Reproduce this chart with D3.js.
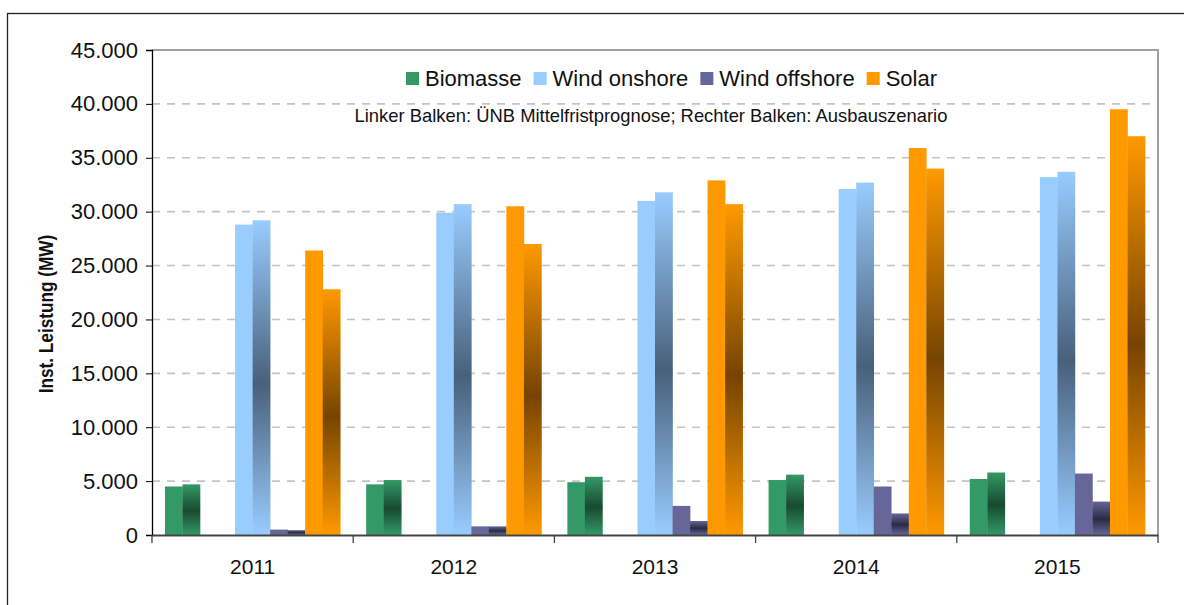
<!DOCTYPE html>
<html>
<head>
<meta charset="utf-8">
<script src="https://cdn.jsdelivr.net/npm/d3@7"></script>
<style>
  body { margin: 0; background: #fff; }
  svg { font-family: "Liberation Sans", Arial, sans-serif; }
</style>
</head>
<body>
<svg width="1184" height="605"></svg>
<script>
// Installierte Leistung EE, links UENB Mittelfristprognose, rechts Ausbauszenario

const years = ["2011", "2012", "2013", "2014", "2015"];
const series = ["Biomasse", "Wind onshore", "Wind offshore", "Solar"];

const biomasse_uenb   = [4500, 4700, 4900, 5100, 5200];
const biomasse_ausbau = [4700, 5100, 5400, 5600, 5800];
const onshore_uenb    = [28800, 29900, 31000, 32100, 33200];
const onshore_ausbau  = [29200, 30700, 31800, 32700, 33700];
const offshore_uenb   = [500, 800, 2700, 4500, 5700];
const offshore_ausbau = [450, 800, 1300, 2000, 3100];
const solar_uenb      = [26400, 30500, 32900, 35900, 39500];
const solar_ausbau    = [22800, 27000, 30700, 34000, 37000];

const yTicks = [0, 5000, 10000, 15000, 20000, 25000, 30000, 35000, 40000, 45000];

const colors = ["#339966", "#99ccff", "#666699", "#ff9900"];
const darks  = ["#184a30", "#48607a", "#2a2a44", "#774400"];

// one empty slot between Biomasse and Wind onshore, like in the excel chart
const slots = ["Biomasse", "-", "Wind onshore", "Wind offshore", "Solar"];

const svg = d3.select("svg");

const pLeft = 152, pRight = 1158, pTop = 50, pBottom = 535;

const de = d3.formatLocale({decimal: ",", thousands: ".", grouping: [3], currency: ["", " €"]});
const fmt = de.format(",");

const y = d3.scaleLinear().domain([0, 45000]).range([pBottom, pTop]);
const x0 = d3.scaleBand().domain(years).range([pLeft, pRight]);
const x1 = d3.scaleBand().domain(slots).range([0, x0.bandwidth()]).paddingOuter(0.37);
const x2 = d3.scaleBand().domain(["links", "rechts"]).range([0, x1.bandwidth()]);

// outer frame
svg.append("rect")
    .attr("x", 7.5).attr("y", 13.5)
    .attr("width", 1190).attr("height", 600)
    .attr("fill", "none").attr("stroke", "#222").attr("stroke-width", 1.3);

// gradients for the right bars
const defs = svg.append("defs");
series.forEach((s, i) => {
  const g = defs.append("linearGradient")
      .attr("id", "grad" + i)
      .attr("x1", 0).attr("y1", 0).attr("x2", 0).attr("y2", 1);
  g.append("stop").attr("offset", "0%").attr("stop-color", colors[i]);
  g.append("stop").attr("offset", "52%").attr("stop-color", darks[i]);
  g.append("stop").attr("offset", "100%").attr("stop-color", colors[i]);
});

// gridlines
svg.append("g")
  .selectAll("line")
  .data(yTicks.filter(d => d > 0 && d < 45000))
  .join("line")
    .attr("x1", pLeft).attr("x2", pRight)
    .attr("y1", d => y(d)).attr("y2", d => y(d))
    .attr("stroke", "#c4c4c4")
    .attr("stroke-width", 1.6)
    .attr("stroke-dasharray", "8,7");

// plot border (top + right)
svg.append("path")
    .attr("d", `M${pLeft},${pTop}H${pRight}V${pBottom}`)
    .attr("fill", "none")
    .attr("stroke", "#a0a0a0")
    .attr("stroke-width", 2);

// bars
const links = [biomasse_uenb, onshore_uenb, offshore_uenb, solar_uenb];
const rechts = [biomasse_ausbau, onshore_ausbau, offshore_ausbau, solar_ausbau];

const barData = [];
years.forEach((yr, j) => {
  series.forEach((s, i) => {
    barData.push({year: yr, serie: s, idx: i, side: "links", value: links[i][j]});
    barData.push({year: yr, serie: s, idx: i, side: "rechts", value: rechts[i][j]});
  });
});

svg.append("g")
  .selectAll("rect")
  .data(barData)
  .join("rect")
    .attr("x", d => x0(d.year) + x1(d.serie) + x2(d.side))
    .attr("y", d => y(d.value))
    .attr("width", x2.bandwidth() + 0.3)
    .attr("height", d => pBottom - y(d.value))
    .attr("fill", d => d.side == "links" ? colors[d.idx] : "url(#grad" + d.idx + ")");

// y axis
const yAxis = svg.append("g")
    .attr("transform", `translate(${pLeft},0)`)
    .call(d3.axisLeft(y).tickValues(yTicks).tickFormat(fmt).tickSize(6).tickPadding(8));
yAxis.select(".domain").attr("stroke", "#000").attr("stroke-width", 1.3);
yAxis.selectAll(".tick line").attr("stroke", "#000");
yAxis.selectAll("text")
    .attr("font-size", 22)
    .attr("fill", "#111")
    .style("font-family", "Liberation Sans, Arial, sans-serif");

// x axis
const xAxis = svg.append("g")
    .attr("transform", `translate(0,${pBottom})`)
    .call(d3.axisBottom(x0).tickSize(0).tickPadding(24));
xAxis.select(".domain").attr("stroke", "#444").attr("stroke-width", 2);
xAxis.selectAll("text")
    .attr("font-size", 21)
    .attr("fill", "#111")
    .style("font-family", "Liberation Sans, Arial, sans-serif");

// x ticks sit between the years
svg.append("g")
  .selectAll("line")
  .data(x0.range().concat(years.slice(1).map(d => x0(d))).sort((a, b) => a - b))
  .join("line")
    .attr("x1", d => d).attr("x2", d => d)
    .attr("y1", pBottom).attr("y2", pBottom + 8)
    .attr("stroke", "#444").attr("stroke-width", 1.3);

// y axis title (a bit condensed, like the original)
svg.append("text")
    .attr("transform", "translate(53,314) rotate(-90) scale(0.82,1)")
    .attr("text-anchor", "middle")
    .attr("font-size", 21)
    .attr("font-weight", "bold")
    .attr("fill", "#111")
    .text("Inst. Leistung (MW)");

// legend
const legend = svg.append("g");
let lx = 406;
series.forEach((s, i) => {
  legend.append("rect")
      .attr("x", lx).attr("y", 72)
      .attr("width", 13).attr("height", 13)
      .attr("fill", colors[i]);
  const t = legend.append("text")
      .attr("x", lx + 19).attr("y", 86)
      .attr("font-size", 22)
      .attr("fill", "#111")
      .text(s);
  lx += 19 + t.node().getComputedTextLength() + 12;
});

svg.append("text")
    .attr("x", 651).attr("y", 122)
    .attr("text-anchor", "middle")
    .attr("font-size", 18.4)
    .attr("fill", "#111")
    .text("Linker Balken: ÜNB Mittelfristprognose; Rechter Balken: Ausbauszenario");
</script>
</body>
</html>
